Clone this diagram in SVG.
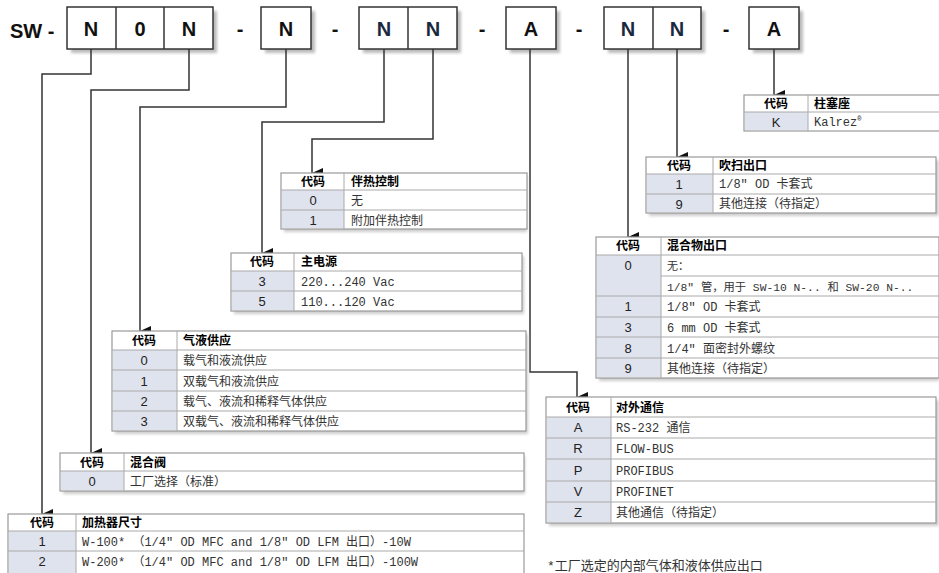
<svg xmlns="http://www.w3.org/2000/svg" width="939" height="573" viewBox="0 0 939 573">
<defs>
<marker id="arr" markerWidth="10" markerHeight="12" refX="5" refY="11" orient="auto" markerUnits="userSpaceOnUse">
<path d="M0,0 L10,0 L5,11 Z" fill="#111"/>
</marker>
<filter id="sh" x="-10%" y="-10%" width="130%" height="140%">
<feGaussianBlur stdDeviation="1.5"/>
</filter>
</defs>
<style>
.code{font-family:"Liberation Sans",Arial,sans-serif;font-size:13px;fill:#222;text-anchor:middle}
.hd{font-family:"Noto Sans CJK SC",sans-serif;font-size:12px;font-weight:bold;fill:#000}
.hdc{font-family:"Noto Sans CJK SC",sans-serif;font-size:12px;font-weight:bold;fill:#000;text-anchor:middle}
.ds{font-family:"Liberation Mono","Noto Sans CJK SC",monospace;font-size:12px;fill:#333}
.box{fill:#fff;stroke:#333;stroke-width:1.5}
.sbox{fill:#bbb;filter:url(#sh)}
.big{font-family:"Liberation Sans",Arial,sans-serif;font-size:20px;font-weight:bold;fill:#111;text-anchor:middle}
.tb{fill:#fff;stroke:#999;stroke-width:1.2}
.cc{fill:#dfe3ee}
.ln{stroke:#aaa;stroke-width:1}
.tsh{fill:#ccc;filter:url(#sh)}
.con{fill:none;stroke:#333;stroke-width:1.5}
</style>

<g id="header">
<text x="10" y="38" font-family="Liberation Sans,Arial,sans-serif" font-size="20" font-weight="bold" fill="#111">SW -</text>
<rect class="sbox" x="71" y="11" width="146" height="42"/>
<rect class="box" x="67" y="7" width="146" height="42"/>
<line x1="116" y1="7" x2="116" y2="49" stroke="#333" stroke-width="1.5"/>
<line x1="164" y1="7" x2="164" y2="49" stroke="#333" stroke-width="1.5"/>
<text class="big" x="91" y="36">N</text>
<text class="big" x="140" y="36">0</text>
<text class="big" x="189" y="36">N</text>
<text class="big" x="240" y="36">-</text>
<rect class="sbox" x="265" y="11" width="50" height="42"/>
<rect class="box" x="261" y="7" width="50" height="42"/>
<text class="big" x="286" y="36">N</text>
<text class="big" x="335" y="36">-</text>
<rect class="sbox" x="363" y="11" width="98" height="42"/>
<rect class="box" x="359" y="7" width="98" height="42"/>
<line x1="408" y1="7" x2="408" y2="49" stroke="#333" stroke-width="1.5"/>
<text class="big" x="384" y="36" style="fill:#1a2840">N</text>
<text class="big" x="433" y="36" style="fill:#1a2840">N</text>
<text class="big" x="482" y="36">-</text>
<rect class="sbox" x="510" y="11" width="50" height="42"/>
<rect class="box" x="506" y="7" width="50" height="42"/>
<text class="big" x="531" y="36">A</text>
<text class="big" x="579" y="36">-</text>
<rect class="sbox" x="608" y="11" width="97" height="42"/>
<rect class="box" x="604" y="7" width="97" height="42"/>
<line x1="653" y1="7" x2="653" y2="49" stroke="#333" stroke-width="1.5"/>
<text class="big" x="628" y="36" style="fill:#1a2840">N</text>
<text class="big" x="677" y="36" style="fill:#1a2840">N</text>
<text class="big" x="726" y="36">-</text>
<rect class="sbox" x="753" y="11" width="50" height="42"/>
<rect class="box" x="749" y="7" width="50" height="42"/>
<text class="big" x="774" y="36">A</text>
</g>

<g id="connectors">
<path class="con" d="M91,49 V74 H42 V514" marker-end="url(#arr)"/>
<path class="con" d="M189,49 V90 H91 V453" marker-end="url(#arr)"/>
<path class="con" d="M286,49 V107 H140 V331" marker-end="url(#arr)"/>
<path class="con" d="M384,49 V122 H262 V253" marker-end="url(#arr)"/>
<path class="con" d="M433,49 V139 H312 V173" marker-end="url(#arr)"/>
<path class="con" d="M530,49 V372 H577 V397" marker-end="url(#arr)"/>
<path class="con" d="M628,49 V237" marker-end="url(#arr)"/>
<path class="con" d="M677,49 V157" marker-end="url(#arr)"/>
<path class="con" d="M774,49 V95" marker-end="url(#arr)"/>
</g>

<g id="t-plunger">
<rect class="tb" x="744" y="95" width="200" height="36"/>
<rect class="cc" x="745" y="112" width="63" height="18"/>
<line class="ln" x1="744" y1="112" x2="939" y2="112"/>
<line class="ln" x1="808" y1="95" x2="808" y2="131"/>
<text class="hdc" x="776" y="108">代码</text>
<text class="hd" x="814" y="108">柱塞座</text>
<text class="code" x="776" y="127">K</text>
<text class="ds" x="814" y="126">Kalrez<tspan font-size="7" dy="-5">®</tspan></text>
</g>

<g id="t-purge">
<rect class="tsh" x="649" y="160" width="290" height="56"/>
<rect class="tb" x="646" y="157" width="290" height="56"/>
<rect class="cc" x="647" y="174" width="66" height="38"/>
<line class="ln" x1="646" y1="174" x2="936" y2="174"/>
<line class="ln" x1="646" y1="194" x2="936" y2="194"/>
<line class="ln" x1="713" y1="157" x2="713" y2="213"/>
<text class="hdc" x="679" y="170">代码</text>
<text class="hd" x="719" y="170">吹扫出口</text>
<text class="code" x="679" y="189">1</text>
<text class="ds" x="719" y="188">1/8″ OD 卡套式</text>
<text class="code" x="679" y="209">9</text>
<text class="ds" x="719" y="208">其他连接（待指定）</text>
</g>

<g id="t-mixout">
<rect class="tsh" x="599" y="240" width="340" height="141"/>
<rect class="tb" x="596" y="237" width="343" height="141"/>
<rect class="cc" x="597" y="255" width="64" height="122"/>
<line class="ln" x1="596" y1="255" x2="939" y2="255"/>
<line class="ln" x1="661" y1="276" x2="939" y2="276"/>
<line class="ln" x1="596" y1="296" x2="939" y2="296"/>
<line class="ln" x1="596" y1="317" x2="939" y2="317"/>
<line class="ln" x1="596" y1="337" x2="939" y2="337"/>
<line class="ln" x1="596" y1="358" x2="939" y2="358"/>
<line class="ln" x1="661" y1="237" x2="661" y2="378"/>
<text class="hdc" x="628" y="250">代码</text>
<text class="hd" x="667" y="250">混合物出口</text>
<text class="code" x="628" y="270">0</text>
<text class="ds" x="667" y="270" style="font-size:11px">无：</text>
<text class="ds" x="667" y="291" style="font-size:11.3px">1/8″ 管，用于 SW-10 N-.. 和 SW-20 N-..</text>
<text class="code" x="628" y="311">1</text>
<text class="ds" x="667" y="311">1/8″ OD 卡套式</text>
<text class="code" x="628" y="332">3</text>
<text class="ds" x="667" y="332">6 mm OD 卡套式</text>
<text class="code" x="628" y="353">8</text>
<text class="ds" x="667" y="353">1/4″ 面密封外螺纹</text>
<text class="code" x="628" y="373">9</text>
<text class="ds" x="667" y="373">其他连接（待指定）</text>
</g>

<g id="t-comm">
<rect class="tsh" x="549" y="400" width="390" height="126"/>
<rect class="tb" x="546" y="397" width="390" height="126"/>
<rect class="cc" x="547" y="417" width="64" height="105"/>
<line class="ln" x1="546" y1="417" x2="936" y2="417"/>
<line class="ln" x1="546" y1="438" x2="936" y2="438"/>
<line class="ln" x1="546" y1="459" x2="936" y2="459"/>
<line class="ln" x1="546" y1="481" x2="936" y2="481"/>
<line class="ln" x1="546" y1="502" x2="936" y2="502"/>
<line class="ln" x1="611" y1="397" x2="611" y2="523"/>
<text class="hdc" x="578" y="412">代码</text>
<text class="hd" x="616" y="412">对外通信</text>
<text class="code" x="578" y="432">A</text>
<text class="ds" x="616" y="432">RS-232 通信</text>
<text class="code" x="578" y="453">R</text>
<text class="ds" x="616" y="453">FLOW-BUS</text>
<text class="code" x="578" y="475">P</text>
<text class="ds" x="616" y="475">PROFIBUS</text>
<text class="code" x="578" y="496">V</text>
<text class="ds" x="616" y="496">PROFINET</text>
<text class="code" x="578" y="517">Z</text>
<text class="ds" x="616" y="517">其他通信（待指定）</text>
</g>

<g id="t-trace">
<rect class="tsh" x="284" y="176" width="243" height="56"/>
<rect class="tb" x="281" y="173" width="246" height="56"/>
<rect class="cc" x="282" y="190" width="62" height="38"/>
<line class="ln" x1="281" y1="190" x2="527" y2="190"/>
<line class="ln" x1="281" y1="210" x2="527" y2="210"/>
<line class="ln" x1="344" y1="173" x2="344" y2="229"/>
<text class="hdc" x="313" y="186">代码</text>
<text class="hd" x="351" y="186">伴热控制</text>
<text class="code" x="313" y="205">0</text>
<text class="ds" x="351" y="205">无</text>
<text class="code" x="313" y="225">1</text>
<text class="ds" x="351" y="225">附加伴热控制</text>
</g>

<g id="t-power">
<rect class="tsh" x="234" y="256" width="290" height="58"/>
<rect class="tb" x="231" y="253" width="291" height="58"/>
<rect class="cc" x="232" y="271" width="62" height="39"/>
<line class="ln" x1="231" y1="271" x2="522" y2="271"/>
<line class="ln" x1="231" y1="291" x2="522" y2="291"/>
<line class="ln" x1="294" y1="253" x2="294" y2="311"/>
<text class="hdc" x="262" y="266">代码</text>
<text class="hd" x="301" y="266">主电源</text>
<text class="code" x="262" y="286">3</text>
<text class="ds" x="301" y="286">220...240 Vac</text>
<text class="code" x="262" y="306">5</text>
<text class="ds" x="301" y="306">110...120 Vac</text>
</g>

<g id="t-supply">
<rect class="tsh" x="115" y="334" width="413" height="100"/>
<rect class="tb" x="112" y="331" width="414" height="100"/>
<rect class="cc" x="113" y="350" width="64" height="80"/>
<line class="ln" x1="112" y1="350" x2="526" y2="350"/>
<line class="ln" x1="112" y1="370" x2="526" y2="370"/>
<line class="ln" x1="112" y1="391" x2="526" y2="391"/>
<line class="ln" x1="112" y1="411" x2="526" y2="411"/>
<line class="ln" x1="177" y1="331" x2="177" y2="431"/>
<text class="hdc" x="144" y="345">代码</text>
<text class="hd" x="183" y="345">气液供应</text>
<text class="code" x="144" y="365">0</text>
<text class="ds" x="183" y="365">载气和液流供应</text>
<text class="code" x="144" y="386">1</text>
<text class="ds" x="183" y="386">双载气和液流供应</text>
<text class="code" x="144" y="406">2</text>
<text class="ds" x="183" y="406">载气、液流和稀释气体供应</text>
<text class="code" x="144" y="426">3</text>
<text class="ds" x="183" y="426">双载气、液流和稀释气体供应</text>
</g>

<g id="t-mixvalve">
<rect class="tsh" x="63" y="456" width="462" height="38"/>
<rect class="tb" x="60" y="453" width="464" height="38"/>
<rect class="cc" x="61" y="471" width="63" height="19"/>
<line class="ln" x1="60" y1="471" x2="524" y2="471"/>
<line class="ln" x1="124" y1="453" x2="124" y2="491"/>
<text class="hdc" x="92" y="467">代码</text>
<text class="hd" x="130" y="467">混合阀</text>
<text class="code" x="92" y="486">0</text>
<text class="ds" x="130" y="486">工厂选择（标准）</text>
</g>

<g id="t-heater">
<rect class="tb" x="8" y="514" width="516" height="62"/>
<rect class="cc" x="9" y="531" width="67" height="42"/>
<line class="ln" x1="8" y1="531" x2="524" y2="531"/>
<line class="ln" x1="8" y1="551" x2="524" y2="551"/>
<line class="ln" x1="76" y1="514" x2="76" y2="573"/>
<text class="hdc" x="42" y="527">代码</text>
<text class="hd" x="82" y="527">加热器尺寸</text>
<text class="code" x="42" y="546">1</text>
<text class="ds" x="82" y="546">W-100* （1/4″ OD MFC and 1/8″ OD LFM 出口）-10W</text>
<text class="code" x="42" y="566">2</text>
<text class="ds" x="82" y="566">W-200* （1/4″ OD MFC and 1/8″ OD LFM 出口）-100W</text>
</g>

<text x="547" y="570" font-family="Liberation Mono,Noto Sans CJK SC,monospace" font-size="13" fill="#333">*工厂选定的内部气体和液体供应出口</text>
</svg>
